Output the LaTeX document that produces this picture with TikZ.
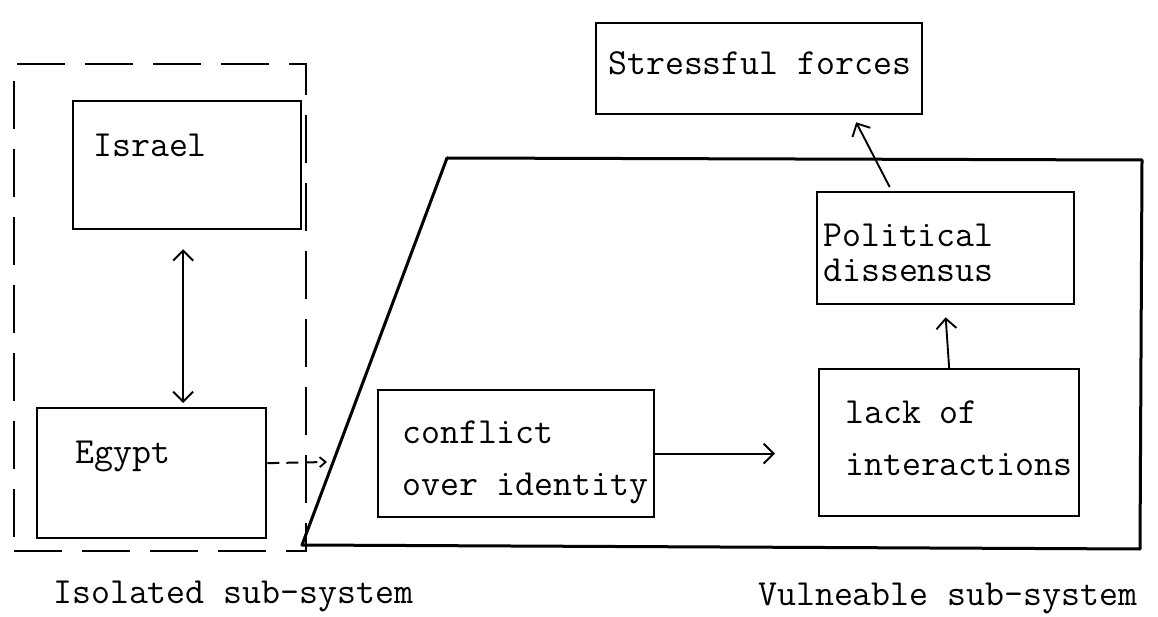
\documentclass[tikz,border=0pt]{standalone}
\usetikzlibrary{arrows.meta,calc}
\tikzset{
  box/.style={draw, line width=2.3pt, rectangle, inner sep=0pt, anchor=north west},
  txt/.style={anchor=base west, inner sep=0pt, font=\ttfamily\fontsize{36.8}{40}\selectfont},
  conn/.style={line width=1.9pt, -{Straight Barb[length=10pt,width=20pt,line width=1.9pt]}},
  dconn/.style={line width=1.9pt, {Straight Barb[length=10pt,width=20pt,line width=1.9pt]}-{Straight Barb[length=10pt,width=20pt,line width=1.9pt]}},
  dashconn/.style={line width=2pt, dash pattern=on 12pt off 7pt, -{Straight Barb[length=6pt,width=10pt,line width=1.8pt]}},
  dashbox/.style={draw, line width=2.1pt, dash pattern=on 48pt off 20pt, rectangle, inner sep=0pt, anchor=north west},
  trap/.style={line width=3pt, line join=round}
}
\begin{document}
\begin{tikzpicture}[x=1pt,y=-1pt]
\useasboundingbox (0,0) rectangle (1158,617);
% isolated sub-system
\node[dashbox, minimum width=292pt, minimum height=487pt] (iso) at (13,63) {};
\node[box, minimum width=228pt, minimum height=128pt] (israel) at (72,100) {};
\node[box, minimum width=229pt, minimum height=130pt] (egypt) at (36,407) {};
\node[txt] (israelt) at (93,157) {Israel};
\node[txt] (egyptt) at (75,463) {Egypt};
% vulnerable sub-system
\coordinate (t1) at (447,158);
\coordinate (t2) at (1142,160);
\coordinate (t3) at (1140,549);
\coordinate (t4) at (302,545);
\draw[trap] (t1) -- (t2) -- (t3) -- (t4) -- cycle;
\node[box, minimum width=326pt, minimum height=91pt] (stress) at (595,22) {};
\node[txt] (stresst) at (608,75) {Stressful forces};
\node[box, minimum width=257pt, minimum height=112pt] (pol) at (816,191) {};
\node[txt] (polt1) at (823,247) {Political};
\node[txt] (polt2) at (823,282) {dissensus};
\node[box, minimum width=276pt, minimum height=127pt] (conf) at (377,389) {};
\node[txt] (conft1) at (402,443) {conflict};
\node[txt] (conft2) at (402,495) {over identity};
\node[box, minimum width=260pt, minimum height=147pt] (lack) at (818,368) {};
\node[txt] (lackt1) at (845,423) {lack of};
\node[txt] (lackt2) at (845,475) {interactions};
% connectors
\draw[dconn] ([xshift=-4pt,yshift=-19pt]israel.south) -- ([xshift=-4pt,yshift=4pt]israel.south |- egypt.north);
\coordinate (dashend) at (327,462);
\draw[dashconn] ([yshift=10pt]egypt.east) -- (dashend);
\draw[conn] (conf.east) -- ([xshift=-43pt]lack.west |- conf.east);
\draw[conn] (lack.north) -- ([yshift=-12pt]pol.south);
\draw[conn] ([xshift=-56pt,yshift=4pt]pol.north) -- ([xshift=97pt,yshift=-7pt]stress.south);
% captions
\node[txt] (isocap) at (53,603) {Isolated sub-system};
\node[txt] (vulcap) at (758,605) {Vulneable sub-system};
\end{tikzpicture}
\end{document}
